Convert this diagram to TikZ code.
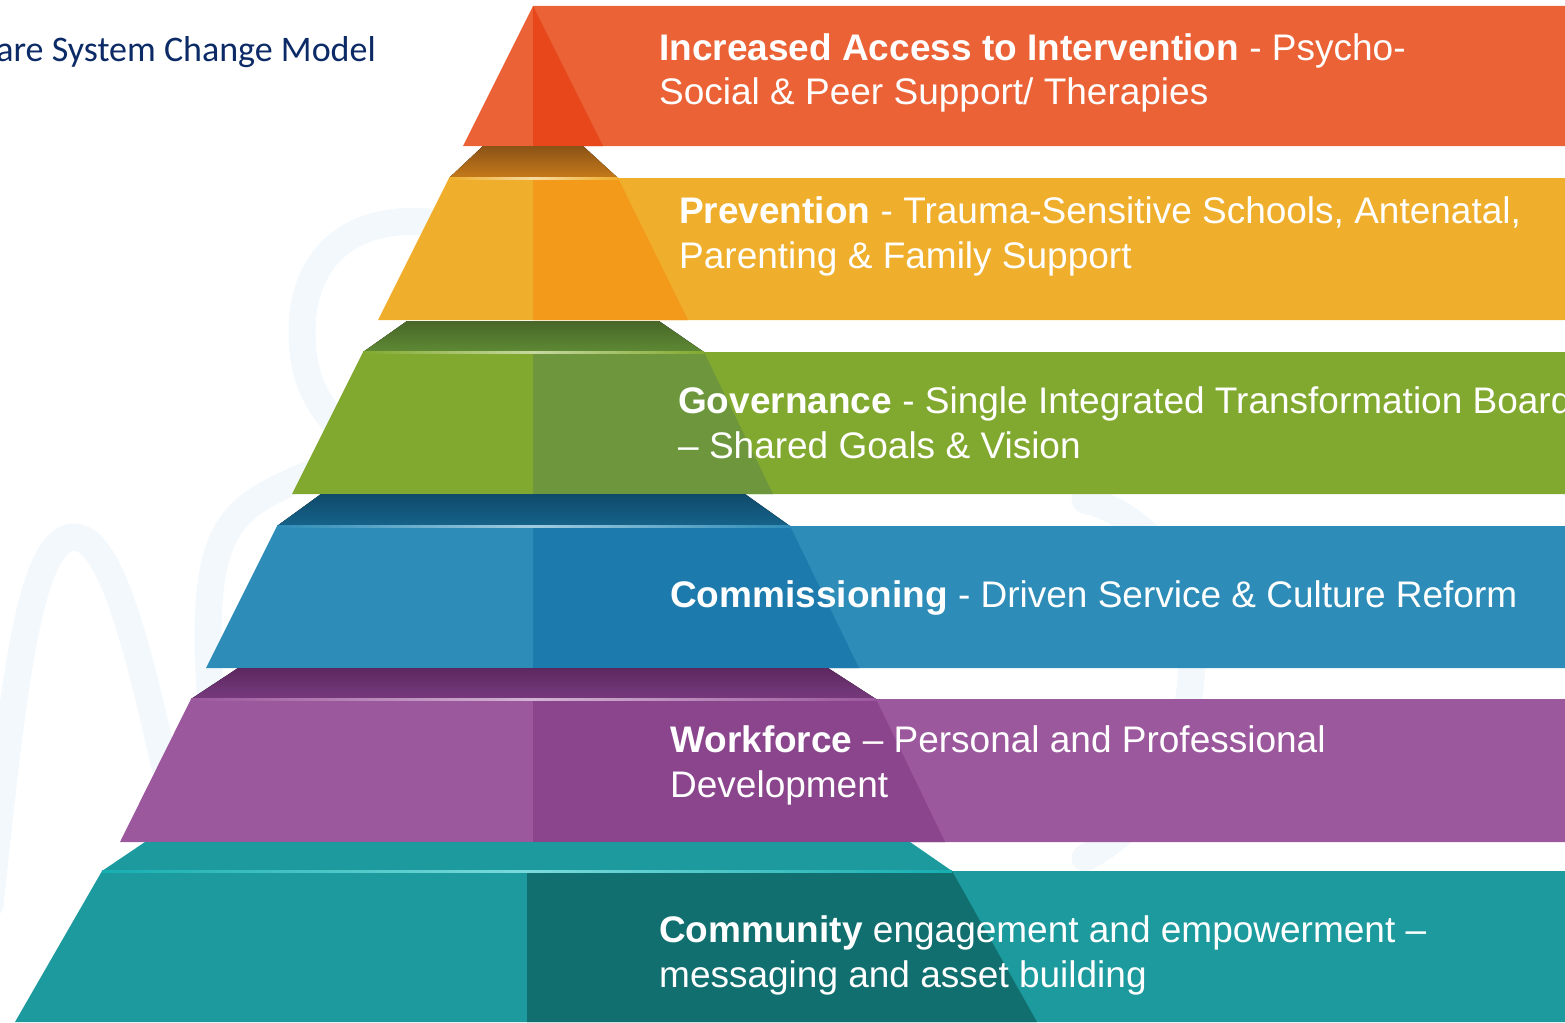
\documentclass[tikz,border=0pt]{standalone}
\usepackage{fontspec}
\setmainfont{Liberation Sans}
\newfontfamily\titlefont{Carlito}
% light face / dark face / top face (dark to light)
\definecolor{redL}{HTML}{EB6236}
\definecolor{redD}{HTML}{E8471C}
\definecolor{ambL}{HTML}{EFAE2C}
\definecolor{ambD}{HTML}{F39A1A}
\definecolor{ambT}{HTML}{8B5317}
\definecolor{ambTb}{HTML}{C67A1A}
\definecolor{grnL}{HTML}{82A92F}
\definecolor{grnD}{HTML}{6E973D}
\definecolor{grnT}{HTML}{486628}
\definecolor{grnTb}{HTML}{5E8A34}
\definecolor{bluL}{HTML}{2E8DB8}
\definecolor{bluD}{HTML}{1C7AAD}
\definecolor{bluT}{HTML}{0F4A6A}
\definecolor{bluTb}{HTML}{16638A}
\definecolor{purL}{HTML}{9C589D}
\definecolor{purD}{HTML}{8A458D}
\definecolor{purT}{HTML}{5C2860}
\definecolor{purTb}{HTML}{773A7D}
\definecolor{tealL}{HTML}{1C9A9D}
\definecolor{tealD}{HTML}{11706F}
\definecolor{swirl}{HTML}{F3F8FC}
\definecolor{titleblue}{HTML}{0B2A66}
\begin{document}
\begin{tikzpicture}[x=1pt,y=-1pt,
    % two-line labels sit on the baseline of their last line
    layertext/.style={anchor=base west,inner sep=0pt,text=white,align=left,
        font=\fontsize{37}{44.5}\selectfont},
    glint/.style={left color=#1,right color=#1,middle color=white!55!#1},
    swirlline/.style={swirl,line width=27pt,line cap=round}]
\useasboundingbox (0,0) rectangle (1565,1022);
\clip (0,0) rectangle (1565,1022);

% faint ribbon behind the pyramid
\draw[swirlline] (-10,905) .. controls (12,700) and (28,535) .. (75,537)
    .. controls (120,540) and (150,700) .. (195,905);
\draw[swirlline] (212,720) .. controls (200,570) and (215,525) .. (262,497)
    .. controls (295,478) and (325,468) .. (350,460);
\draw[swirlline] (430,222) .. controls (345,215) and (302,262) .. (302,332)
    .. controls (302,385) and (322,412) .. (352,440);
\draw[swirlline] (1085,500) .. controls (1165,520) and (1200,600) .. (1190,690)
    .. controls (1180,770) and (1140,830) .. (1085,858);

\node[anchor=base east,inner sep=0pt,text=titleblue,
    font=\titlefont\fontsize{36}{40}\selectfont] (title) at (376,62) {are System Change Model};

% top layer (apex)
\fill[redL] (533,6) -- (1565,6) -- (1565,146) -- (463,146) -- cycle;
\fill[redD] (533,6) -- (603,146) -- (533,146) -- cycle;

% second layer
\fill[top color=ambT,bottom color=ambTb] (483,146) -- (583,146) -- (618,178) -- (449,178) -- cycle;
\fill[ambL] (449,178) -- (1565,178) -- (1565,320) -- (378,320) -- cycle;
\fill[ambD] (533,178) -- (618,178) -- (688,320) -- (533,320) -- cycle;
\fill[glint=ambL] (449,177) rectangle (618,179);

% third layer
\fill[top color=grnT,bottom color=grnTb] (407,321) -- (659,321) -- (704,352) -- (363,352) -- cycle;
\fill[grnL] (363,352) -- (1565,352) -- (1565,494) -- (292,494) -- cycle;
\fill[grnD] (533,352) -- (704,352) -- (773,494) -- (533,494) -- cycle;
\fill[glint=grnL] (363,351) rectangle (704,353);

% fourth layer
\fill[top color=bluT,bottom color=bluTb] (321,494) -- (745,494) -- (790,526) -- (277,526) -- cycle;
\fill[bluL] (277,526) -- (1565,526) -- (1565,668) -- (206,668) -- cycle;
\fill[bluD] (533,526) -- (790,526) -- (859,668) -- (533,668) -- cycle;
\fill[glint=bluL] (277,525) rectangle (790,527);

% fifth layer
\fill[top color=purT,bottom color=purTb] (238,668) -- (828,668) -- (876,699) -- (191,699) -- cycle;
\fill[purL] (191,699) -- (1565,699) -- (1565,842) -- (120,842) -- cycle;
\fill[purD] (533,699) -- (876,699) -- (945,842) -- (533,842) -- cycle;
\fill[glint=purL] (191,698) rectangle (876,700);

% base layer
\fill[tealL] (145,842) -- (910,842) -- (952,871) -- (102,871) -- cycle;
\fill[tealL] (102,871) -- (1565,871) -- (1565,1022) -- (15,1022) -- cycle;
\fill[tealD] (527,871) -- (952,871) -- (1037,1022) -- (527,1022) -- cycle;
\fill[glint=tealL!80!cyan] (102,870) rectangle (952,872);

% labels on the bands
\node[layertext] (access) at (659,105)
    {\textbf{Increased Access to Intervention} - Psycho-\\Social \& Peer Support/ Therapies};
\node[layertext] (prevention) at (679,268)
    {\textbf{Prevention} - Trauma-Sensitive Schools, Antenatal,\\Parenting \& Family Support};
\node[layertext] (governance) at (678,458)
    {\textbf{Governance} - Single Integrated Transformation Board\\– Shared Goals \& Vision};
\node[layertext] (commissioning) at (670,607)
    {\textbf{Commissioning} - Driven Service \& Culture Reform};
\node[layertext] (workforce) at (670,797)
    {\textbf{Workforce} – Personal and Professional\\Development};
\node[layertext] (community) at (659,987)
    {\textbf{Community} engagement and empowerment –\\messaging and asset building};
\end{tikzpicture}
\end{document}
